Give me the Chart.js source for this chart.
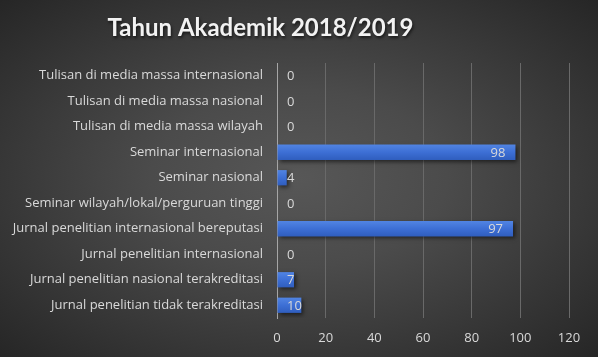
<!DOCTYPE html>
<html>
<head>
<meta charset="utf-8">
<script src="https://cdn.jsdelivr.net/npm/chart.js@4/dist/chart.umd.min.js"></script>
<style>
  html, body { margin: 0; padding: 0; }
  body {
    width: 598px; height: 357px; overflow: hidden;
    background: radial-gradient(ellipse farthest-corner at 50% 50%, #575757 0%, #4b4b4b 35%, #262626 100%);
  }
  #wrap { position: relative; width: 598px; height: 357px; }
</style>
</head>
<body>
<div id="wrap"><canvas id="c" width="598" height="357"></canvas></div>
<script>
const titleText = 'Tahun Akademik 2018/2019';
const categories = [
  'Tulisan di media massa internasional',
  'Tulisan di media massa nasional',
  'Tulisan di media massa wilayah',
  'Seminar internasional',
  'Seminar nasional',
  'Seminar wilayah/lokal/perguruan tinggi',
  'Jurnal penelitian internasional bereputasi',
  'Jurnal penelitian internasional',
  'Jurnal penelitian nasional terakreditasi',
  'Jurnal penelitian tidak terakreditasi'
];
const values = [0, 0, 0, 98, 4, 0, 97, 0, 7, 10];
const xTicks = [0, 20, 40, 60, 80, 100, 120];

const TFONT = 'Lato, "Open Sans", sans-serif';
const FONT = '"Open Sans", Lato, sans-serif';
const TEXT = '#d9d9d9';

function barFill(ctx) {
  const chart = ctx.chart;
  const y = chart.scales && chart.scales.y;
  if (!y || ctx.dataIndex === undefined) return '#3e70d4';
  const cy = y.getPixelForValue(ctx.dataIndex);
  if (!isFinite(cy)) return '#3e70d4';
  const g = chart.ctx.createLinearGradient(0, cy - 8, 0, cy + 8);
  g.addColorStop(0, '#5285e3');
  g.addColorStop(0.5, '#3d6fd5');
  g.addColorStop(1, '#2f5dbd');
  return g;
}

const shadowPlugin = {
  id: 'barShadow',
  beforeDatasetsDraw(chart) {
    const c = chart.ctx;
    c.save();
    c.shadowColor = 'rgba(0,0,0,0.55)';
    c.shadowBlur = 4;
    c.shadowOffsetX = 2;
    c.shadowOffsetY = 2;
  },
  afterDatasetsDraw(chart) {
    chart.ctx.restore();
  }
};

const labelPlugin = {
  id: 'valueLabels',
  afterDatasetsDraw(chart) {
    const c = chart.ctx;
    const meta = chart.getDatasetMeta(0);
    const x0 = chart.scales.x.getPixelForValue(0);
    c.save();
    c.font = '13px ' + FONT;
    c.fillStyle = TEXT;
    c.textBaseline = 'middle';
    meta.data.forEach((bar, i) => {
      const v = values[i];
      const txt = String(v);
      if (v > 20) {
        c.textAlign = 'right';
        c.fillText(txt, bar.x - 10, bar.y + 1);
      } else {
        c.textAlign = 'left';
        c.fillText(txt, x0 + 10, bar.y + 1);
      }
    });
    c.restore();
  }
};

const titleShadowPlugin = {
  id: 'titleShadow',
  beforeDraw(chart) {
    const t = chart.titleBlock;
    if (t && !t._wrapped) {
      const orig = t.draw.bind(t);
      t.draw = function () {
        const c = chart.ctx;
        c.save();
        c.translate(-27, 0);
        c.shadowColor = 'rgba(0,0,0,0.6)';
        c.shadowBlur = 3;
        c.shadowOffsetX = 1;
        c.shadowOffsetY = 2;
        orig();
        c.restore();
      };
      t._wrapped = true;
    }
  }
};

const chart = new Chart(document.getElementById('c'), {
  type: 'bar',
  data: {
    labels: categories,
    datasets: [{
      data: values,
      backgroundColor: barFill,
      borderWidth: 0,
      categoryPercentage: 1.0,
      barPercentage: 0.6
    }]
  },
  plugins: [shadowPlugin, labelPlugin, titleShadowPlugin],
  options: {
    indexAxis: 'y',
    responsive: false,
    animation: false,
    events: [],
    layout: { padding: { left: 6, right: 29, top: 0, bottom: 0 } },
    plugins: {
      legend: { display: false },
      tooltip: { enabled: false },
      title: {
        display: true,
        text: titleText,
        color: '#f2f2f2',
        font: { family: TFONT, size: 24, weight: 'bold', lineHeight: 1.2 },
        padding: { top: 14, bottom: 20.2 }
      }
    },
    scales: {
      x: {
        type: 'linear',
        min: 0, max: 120,
        afterBuildTicks(scale) { scale.ticks = xTicks.map(v => ({ value: v })); },
        afterFit(scale) { scale.height = 39; },
        grid: {
          color: (ctx) => ctx.tick && ctx.tick.value === 0 ? 'rgba(0,0,0,0)' : '#696969',
          lineWidth: 1,
          drawTicks: false
        },
        border: { display: false },
        ticks: { color: TEXT, font: { family: FONT, size: 13 }, padding: 12 }
      },
      y: {
        type: 'category',
        afterFit(scale) { scale.width = 271; },
        grid: { display: false, drawTicks: false },
        border: { display: true, color: '#a6a6a6', width: 1 },
        ticks: { color: TEXT, font: { family: FONT, size: 13 }, padding: 14, autoSkip: false }
      }
    }
  }
});
chart.update();
</script>
</body>
</html>
